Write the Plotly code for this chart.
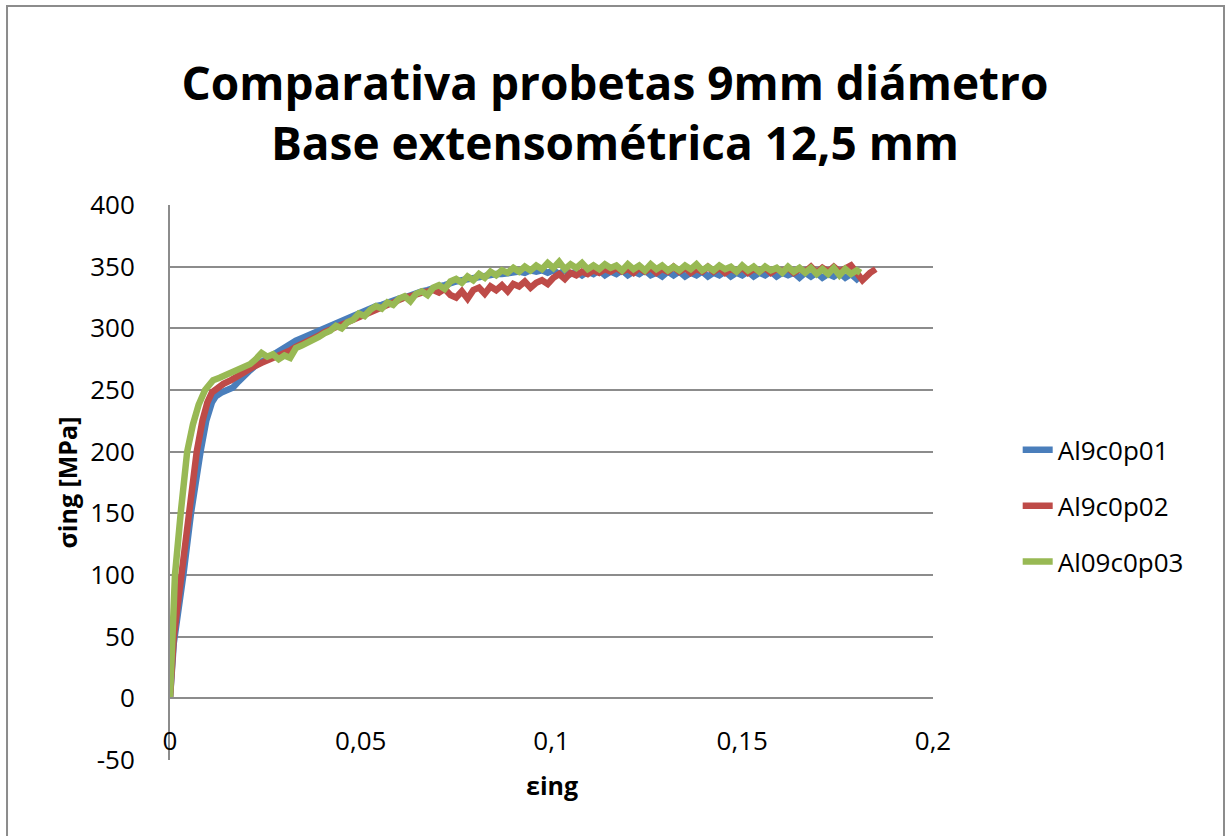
import plotly.graph_objects as go

# ---------------- data ----------------
series_names = ["Al9c0p01", "Al9c0p02", "Al09c0p03"]
series_colors = ["#4A7EBB", "#BE4B48", "#98B954"]

eps_blue = [0, 0.001, 0.0035, 0.0055, 0.008, 0.0095, 0.011, 0.012, 0.0135, 0.015, 0.0165, 0.018,
            0.0195, 0.021, 0.0225, 0.024, 0.0255, 0.027, 0.0285, 0.030, 0.0315, 0.033, 0.0345,
            0.036, 0.0375, 0.039, 0.0405, 0.042, 0.0435, 0.045, 0.0465, 0.048, 0.0495, 0.051,
            0.0525, 0.054, 0.0555, 0.057, 0.0585, 0.060, 0.0615, 0.063, 0.0645, 0.066, 0.0675,
            0.069, 0.0705, 0.072, 0.0735, 0.075, 0.0765, 0.078, 0.0795, 0.081, 0.0825, 0.084,
            0.0855, 0.087, 0.0885, 0.090, 0.0915, 0.093, 0.0945, 0.096, 0.0975, 0.099, 0.1005,
            0.102, 0.1035, 0.105, 0.1065, 0.108, 0.1095, 0.111, 0.1125, 0.114, 0.1155, 0.117,
            0.1185, 0.120, 0.1215, 0.123, 0.1245, 0.126, 0.1275, 0.129, 0.1305, 0.132, 0.1335,
            0.135, 0.1365, 0.138, 0.1395, 0.141, 0.1425, 0.144, 0.1455, 0.147, 0.1485, 0.150,
            0.1515, 0.153, 0.1545, 0.156, 0.1575, 0.159, 0.1605, 0.162, 0.1635, 0.165, 0.1665,
            0.168, 0.1695, 0.171, 0.1725, 0.174, 0.1755, 0.177, 0.1785, 0.180, 0.181]
sig_blue = [0, 45, 100, 150, 200, 225, 240, 245, 248, 250, 252, 257,
            262, 266, 270, 273, 276, 279, 282, 285, 287, 290, 292,
            294, 297, 299, 301, 303, 305, 307, 309, 311, 313, 314,
            316, 318, 319, 321, 322, 324, 325, 327, 328, 330, 331,
            333, 334, 335, 337, 338, 339, 340, 341, 342, 343, 343,
            344, 344, 345, 345, 346, 345, 347, 346, 347, 345, 347,
            344, 347, 344, 346, 343, 346, 344, 347, 343, 346, 344,
            347, 343, 346, 344, 347, 343, 345, 342, 346, 343, 346,
            342, 345, 343, 346, 342, 345, 343, 346, 342, 345, 343,
            346, 342, 345, 343, 346, 342, 345, 343, 345, 341, 345,
            342, 345, 341, 344, 342, 345, 341, 344, 340, 343]

eps_red = [0, 0.001, 0.003, 0.005, 0.007, 0.0085, 0.0098, 0.011, 0.0125, 0.014, 0.016, 0.018,
           0.020, 0.022, 0.024, 0.0255, 0.027, 0.0285, 0.030, 0.0315, 0.033, 0.0345, 0.036,
           0.0375, 0.039, 0.0405, 0.042, 0.0435, 0.045, 0.0465, 0.048, 0.0495, 0.051, 0.0525,
           0.054, 0.0555, 0.057, 0.0585, 0.060, 0.0615, 0.063, 0.0645, 0.066, 0.0675, 0.069,
           0.0705, 0.072, 0.0735, 0.075, 0.0765, 0.078, 0.0795, 0.081, 0.0825, 0.084, 0.0855,
           0.087, 0.0885, 0.090, 0.0915, 0.093, 0.0945, 0.096, 0.0975, 0.099, 0.1005, 0.102,
           0.1035, 0.105, 0.1065, 0.108, 0.1095, 0.111, 0.1125, 0.114, 0.1155, 0.117, 0.1185,
           0.120, 0.1215, 0.123, 0.1245, 0.126, 0.1275, 0.129, 0.1305, 0.132, 0.1335, 0.135,
           0.1365, 0.138, 0.1395, 0.141, 0.1425, 0.144, 0.1455, 0.147, 0.1485, 0.150, 0.1515,
           0.153, 0.1545, 0.156, 0.1575, 0.159, 0.1605, 0.162, 0.1635, 0.165, 0.1665, 0.168,
           0.1695, 0.171, 0.1725, 0.174, 0.1755, 0.177, 0.1785, 0.180, 0.1815, 0.1835, 0.185]
sig_red = [0, 50, 100, 150, 200, 225, 240, 248, 252, 255, 258, 262,
           266, 269, 272, 274, 275, 278, 280, 282, 285, 287, 289,
           292, 294, 297, 299, 301, 303, 305, 308, 310, 312, 314,
           316, 318, 320, 321, 323, 325, 326, 328, 329, 330, 331,
           329, 332, 327, 325, 330, 324, 331, 333, 328, 334, 331,
           335, 330, 336, 334, 338, 333, 337, 339, 336, 341, 344,
           340, 345, 343, 346, 344, 347, 345, 348, 346, 349, 346,
           348, 345, 349, 346, 349, 345, 348, 346, 350, 346, 349,
           345, 348, 346, 350, 346, 349, 345, 348, 346, 349, 345,
           348, 346, 349, 345, 348, 346, 349, 345, 348, 346, 350,
           345, 349, 346, 350, 346, 349, 351, 345, 339, 345, 348]

eps_green = [0, 0.0005, 0.0013, 0.0028, 0.0045, 0.006, 0.0075, 0.0092, 0.0113, 0.013, 0.015,
             0.017, 0.019, 0.021, 0.0225, 0.024, 0.0255, 0.027, 0.0285, 0.030, 0.0315, 0.033,
             0.0345, 0.036, 0.0375, 0.039, 0.0405, 0.042, 0.0435, 0.045, 0.0465, 0.048, 0.0495,
             0.051, 0.0525, 0.054, 0.0555, 0.057, 0.0585, 0.060, 0.0615, 0.063, 0.0645, 0.066,
             0.0675, 0.069, 0.0705, 0.072, 0.0735, 0.075, 0.0765, 0.078, 0.0795, 0.081, 0.0825,
             0.084, 0.0855, 0.087, 0.0885, 0.090, 0.0915, 0.093, 0.0945, 0.096, 0.0975, 0.099,
             0.1005, 0.102, 0.1035, 0.105, 0.1065, 0.108, 0.1095, 0.111, 0.1125, 0.114, 0.1155,
             0.117, 0.1185, 0.120, 0.1215, 0.123, 0.1245, 0.126, 0.1275, 0.129, 0.1305, 0.132,
             0.1335, 0.135, 0.1365, 0.138, 0.1395, 0.141, 0.1425, 0.144, 0.1455, 0.147, 0.1485,
             0.150, 0.1515, 0.153, 0.1545, 0.156, 0.1575, 0.159, 0.1605, 0.162, 0.1635, 0.165,
             0.1665, 0.168, 0.1695, 0.171, 0.1725, 0.174, 0.1755, 0.177, 0.1785, 0.180, 0.181]
sig_green = [0, 45, 100, 150, 200, 222, 238, 250, 258, 260, 263,
             266, 268, 271, 275, 280, 277, 279, 275, 278, 276, 284,
             286, 288, 291, 293, 296, 298, 302, 300, 305, 307, 312,
             310, 315, 318, 316, 321, 319, 324, 326, 322, 328, 330,
             327, 333, 335, 332, 338, 340, 337, 342, 339, 344, 341,
             346, 343, 347, 345, 349, 346, 350, 347, 351, 348, 353,
             349, 354, 348, 352, 349, 353, 348, 351, 348, 352, 349,
             351, 347, 352, 348, 351, 347, 352, 348, 351, 347, 350,
             347, 351, 348, 352, 347, 350, 347, 351, 348, 350, 346,
             351, 347, 350, 346, 350, 347, 349, 345, 350, 346, 349,
             345, 349, 344, 348, 344, 349, 343, 348, 344, 347, 345]

y_ticks = [-50, 0, 50, 100, 150, 200, 250, 300, 350, 400]
y_tick_labels = ["-50", "0", "50", "100", "150", "200", "250", "300", "350", "400"]
x_ticks = [0, 0.05, 0.1, 0.15, 0.2]
x_tick_labels = ["0", "0,05", "0,1", "0,15", "0,2"]

title_lines = ["Comparativa probetas 9mm diámetro", "Base extensométrica 12,5 mm"]
x_title = "εing"
y_title = "σing [MPa]"

# ---------------- figure ----------------
FONT = "Open Sans"
GRID = "#8c8c8c"

fig = go.Figure()
for name, col, xs, ys in zip(series_names, series_colors,
                             [eps_blue, eps_red, eps_green],
                             [sig_blue, sig_red, sig_green]):
    fig.add_trace(go.Scatter(x=xs, y=ys, mode="lines", name=name, legendgroup=name,
                             line=dict(color=col, width=6.5)))

fig.update_layout(
    width=1225, height=836,
    margin=dict(l=170, r=292, t=205, b=76),
    paper_bgcolor="white", plot_bgcolor="white",
    font=dict(family=FONT, color="black", size=26),
    title=dict(text="<br>".join(title_lines), x=0.502, xref="container", xanchor="center",
               y=0.88, yref="container", yanchor="middle",
               font=dict(family=FONT, size=46, color="black", weight="bold")),
    showlegend=True,
    legend=dict(x=1.111, xanchor="left", y=0.601, yanchor="top",
                font=dict(family=FONT, size=26), traceorder="grouped",
                tracegroupgap=19, bgcolor="rgba(0,0,0,0)"),
    xaxis=dict(range=[0, 0.2], tickvals=x_ticks, ticktext=x_tick_labels,
               showgrid=False, zeroline=False,
               showline=True, linecolor=GRID, linewidth=2,
               anchor="free", position=50 / 450,
               ticks="", ticklabelstandoff=19,
               tickfont=dict(family=FONT, size=26)),
    yaxis=dict(range=[-50, 400], tickvals=y_ticks, ticktext=y_tick_labels,
               showgrid=True, gridcolor=GRID,
               gridwidth=2, zeroline=False, showline=True, linecolor=GRID, linewidth=2,
               ticks="", ticklabelstandoff=28,
               tickfont=dict(family=FONT, size=26)),
)

# axis titles
fig.add_annotation(text=x_title, x=0.5, xref="paper", y=-0.01, yref="paper",
                   xanchor="center", yanchor="top", showarrow=False,
                   font=dict(family=FONT, size=25, color="black", weight="bold"))
fig.add_annotation(text=y_title, x=-0.135, xref="paper", y=0.5, yref="paper",
                   xanchor="center", yanchor="middle",
                   textangle=-90, showarrow=False,
                   font=dict(family=FONT, size=25, color="black", weight="bold"))

# outer chart-area border
fig.add_shape(type="rect", xref="paper", yref="paper",
              x0=-0.2136, x1=1.3814, y0=-0.15, y1=1.3586,
              line=dict(color=GRID, width=2), layer="below")

fig.write_html("out.html")
